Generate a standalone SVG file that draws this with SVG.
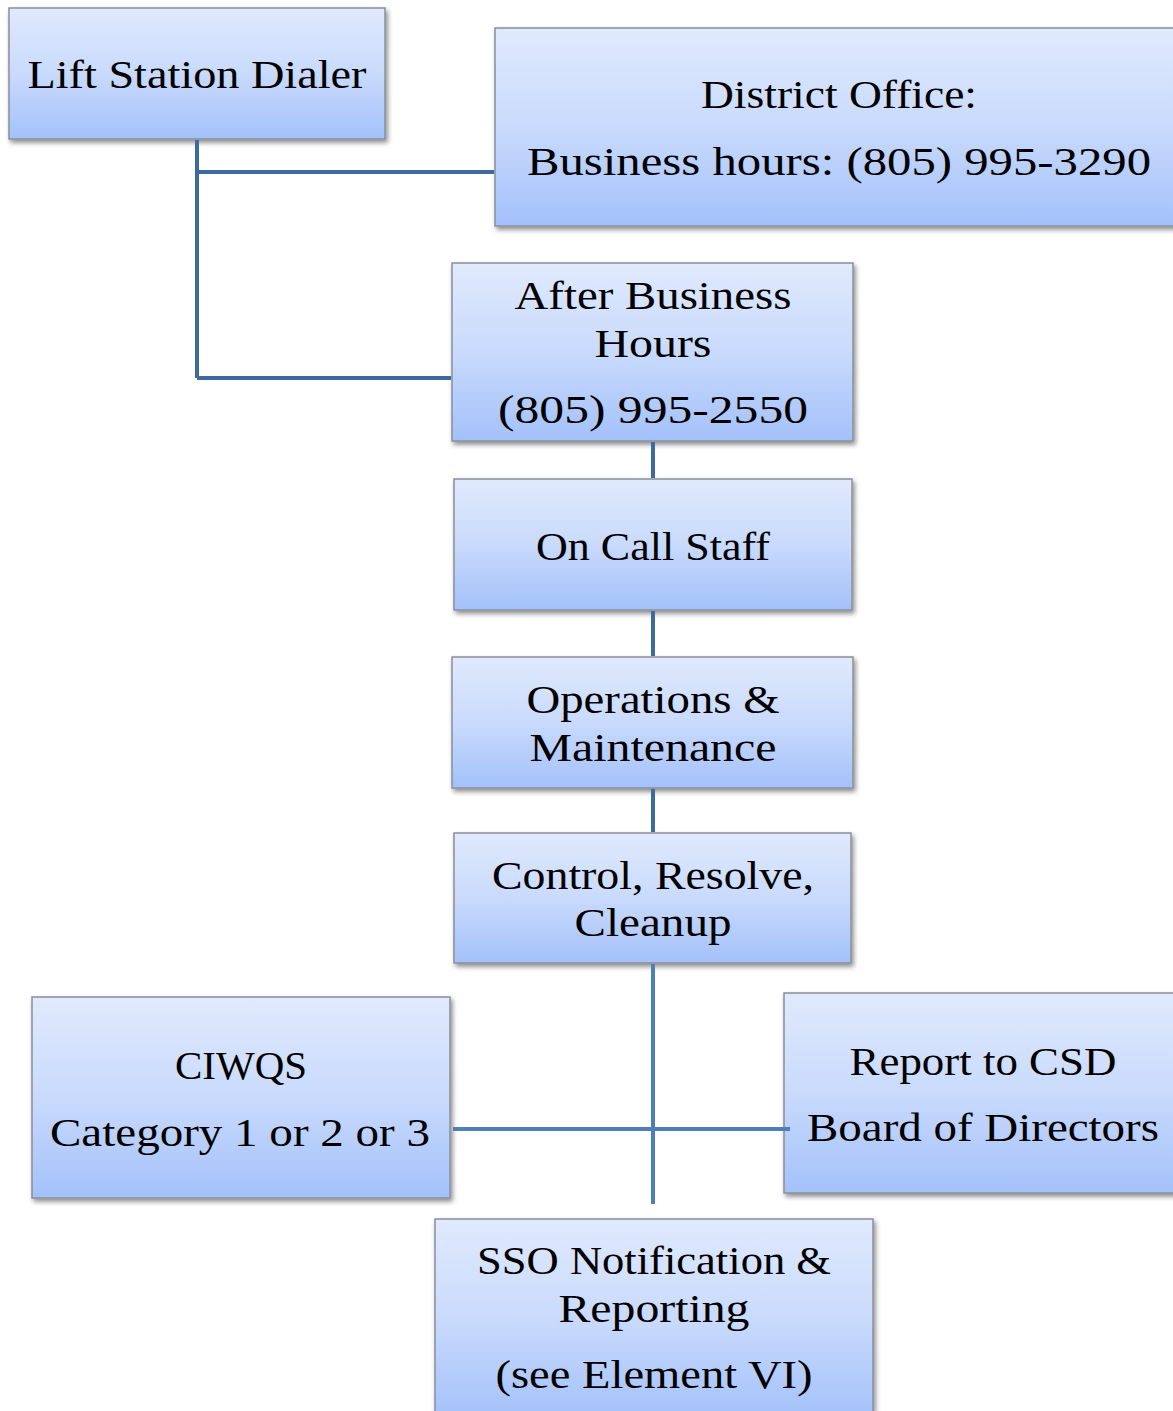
<svg xmlns="http://www.w3.org/2000/svg" width="1173" height="1411" viewBox="0 0 1173 1411">
<defs>
<linearGradient id="g" x1="0" y1="0" x2="0" y2="1">
<stop offset="0" stop-color="#e0eafd"/>
<stop offset="0.5" stop-color="#c9dafc"/>
<stop offset="1" stop-color="#a3c1fa"/>
</linearGradient>
<filter id="sh" x="-5%" y="-5%" width="112%" height="115%">
<feGaussianBlur in="SourceAlpha" stdDeviation="2.5"/>
<feOffset dx="2" dy="3" result="b"/>
<feComponentTransfer><feFuncA type="linear" slope="0.45"/></feComponentTransfer>
<feMerge><feMergeNode/><feMergeNode in="SourceGraphic"/></feMerge>
</filter>
</defs>
<style>
.box{fill:url(#g);stroke:#8a8f99;stroke-width:1.5;filter:url(#sh)}
text{font-family:"Liberation Serif","DejaVu Serif",serif;font-size:39px;fill:#000;text-anchor:middle}
.c1{stroke:#3e6aa0;stroke-width:4;fill:none}
.c2{stroke:#4f7fbb;stroke-width:4;fill:none}
</style>
<g id="n1"><rect class="box" x="9" y="8" width="376" height="131"/>
<text x="197" y="88" textLength="339" lengthAdjust="spacingAndGlyphs">Lift Station Dialer</text></g>
<g id="n2"><rect class="box" x="495" y="28" width="690" height="198"/>
<text x="839" y="108" textLength="276" lengthAdjust="spacingAndGlyphs">District Office:</text>
<text x="839" y="175" textLength="624" lengthAdjust="spacingAndGlyphs">Business hours: (805) 995-3290</text></g>
<g id="n3"><rect class="box" x="452" y="263" width="401" height="178"/>
<text x="653" y="309" textLength="277" lengthAdjust="spacingAndGlyphs">After Business</text>
<text x="653" y="357" textLength="117" lengthAdjust="spacingAndGlyphs">Hours</text>
<text x="653" y="423" textLength="310" lengthAdjust="spacingAndGlyphs">(805) 995-2550</text></g>
<g id="n4"><rect class="box" x="454" y="479" width="398" height="131"/>
<text x="653" y="560" textLength="234" lengthAdjust="spacingAndGlyphs">On Call Staff</text></g>
<g id="n5"><rect class="box" x="452" y="657" width="401" height="131"/>
<text x="653" y="713" textLength="253" lengthAdjust="spacingAndGlyphs">Operations &amp;</text>
<text x="653" y="761" textLength="247" lengthAdjust="spacingAndGlyphs">Maintenance</text></g>
<g id="n6"><rect class="box" x="454" y="833" width="397" height="130"/>
<text x="653" y="889" textLength="322" lengthAdjust="spacingAndGlyphs">Control, Resolve,</text>
<text x="653" y="936" textLength="157" lengthAdjust="spacingAndGlyphs">Cleanup</text></g>
<g id="n7"><rect class="box" x="32" y="997" width="418" height="201"/>
<text x="241" y="1079" textLength="132" lengthAdjust="spacingAndGlyphs">CIWQS</text>
<text x="240" y="1146" textLength="380" lengthAdjust="spacingAndGlyphs">Category 1 or 2 or 3</text></g>
<g id="n8"><rect class="box" x="784" y="993" width="400" height="200"/>
<text x="983" y="1075" textLength="267" lengthAdjust="spacingAndGlyphs">Report to CSD</text>
<text x="983" y="1141" textLength="352" lengthAdjust="spacingAndGlyphs">Board of Directors</text></g>
<g id="n9"><rect class="box" x="435" y="1219" width="438" height="200"/>
<text x="654" y="1274" textLength="354" lengthAdjust="spacingAndGlyphs">SSO Notification &amp;</text>
<text x="654" y="1322" textLength="191" lengthAdjust="spacingAndGlyphs">Reporting</text>
<text x="654" y="1388" textLength="317" lengthAdjust="spacingAndGlyphs">(see Element VI)</text></g>
<g id="connectors">
<path class="c1" d="M197 140 V378 M197 172 H494 M197 378 H451"/>
<path class="c1" d="M653 442 V478 M653 611 V656 M653 789 V832"/>
<path class="c2" d="M653 964 V1204 M453 1129 H790"/>
</g>
</svg>
